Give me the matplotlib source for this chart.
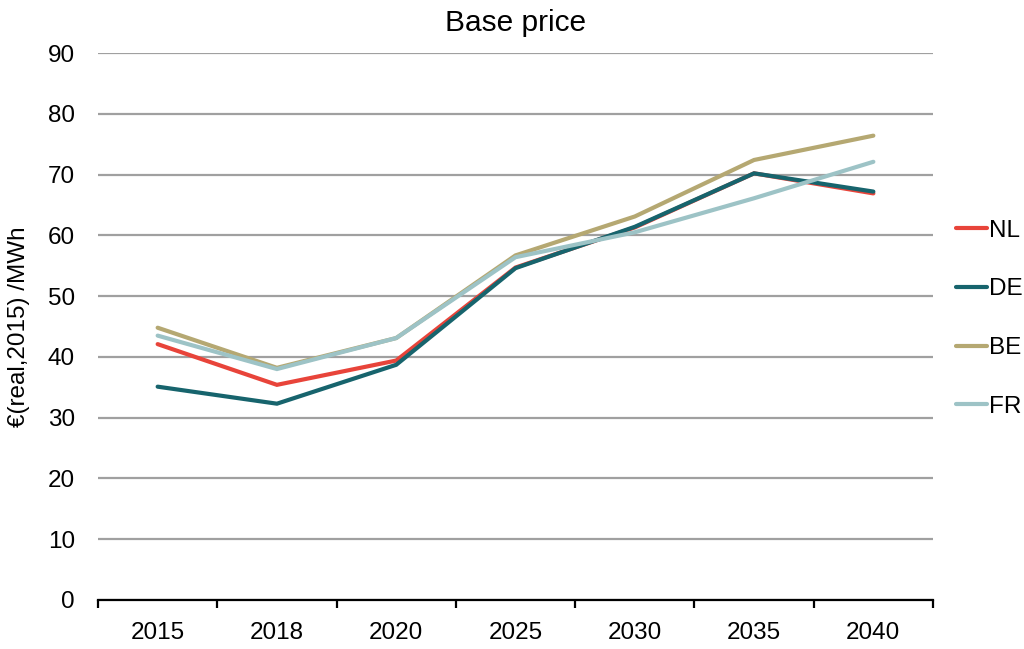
import matplotlib
matplotlib.use("Agg")
import matplotlib.pyplot as plt
import numpy as np

plt.rcParams['font.family'] = ['Liberation Sans', 'DejaVu Sans']

years = ["2015", "2018", "2020", "2025", "2030", "2035", "2040"]
nl = [42.1, 35.4, 39.4, 54.7, 61.3, 70.2, 66.9]
de = [35.1, 32.3, 38.7, 54.6, 61.4, 70.2, 67.2]
be = [44.8, 38.2, 43.1, 56.7, 63.1, 72.4, 76.4]
fr = [43.5, 38.0, 43.1, 56.4, 60.5, 66.1, 72.1]

series = [("NL", nl, "#E8443A"), ("DE", de, "#17646D"),
          ("BE", be, "#B5A872"), ("FR", fr, "#9DC3C6")]

FS = 17.5

fig = plt.figure(figsize=(10.24, 6.49), dpi=100)
ax = fig.add_axes([98/1024, 1-600/649, (933-98)/1024, (600-53)/649])

x = np.arange(len(years))
for name, vals, col in series:
    ax.plot(x, vals, color=col, lw=3.0, label=name, solid_capstyle='round', solid_joinstyle='miter')

ax.set_xlim(-0.5, len(years) - 0.5)
ax.set_ylim(0, 90)
ax.set_yticks(np.arange(0, 91, 10))
ax.yaxis.grid(True, color="#A0A0A0", lw=1.6)
ax.set_axisbelow(True)
for s in ["top", "right", "left"]:
    ax.spines[s].set_visible(False)
ax.spines["bottom"].set_color("black")
ax.spines["bottom"].set_linewidth(1.6)
ax.spines["bottom"].set_zorder(3)

ax.set_xticks(x)
ax.set_xticklabels(years, fontsize=FS)
ax.tick_params(axis='x', which='major', length=0, pad=16)
ax.set_xticks(np.arange(-0.5, len(years), 1), minor=True)
ax.tick_params(axis='x', which='minor', length=6, width=1.6, color='black', direction='out')
ax.tick_params(axis='y', length=0, labelsize=FS, pad=16.5)

ax.set_ylabel("€(real,2015) /MWh", fontsize=FS)
ax.yaxis.set_label_coords(-0.081, 0.5)
ax.set_title("Base price", fontsize=21.5, pad=16)

leg = ax.legend(loc='center left', bbox_to_anchor=(1.0275, 0.514), frameon=False,
                fontsize=FS, handlelength=1.26, handletextpad=0.1, labelspacing=1.51,
                borderaxespad=0, borderpad=0)

fig.savefig("out.png", dpi=100)
